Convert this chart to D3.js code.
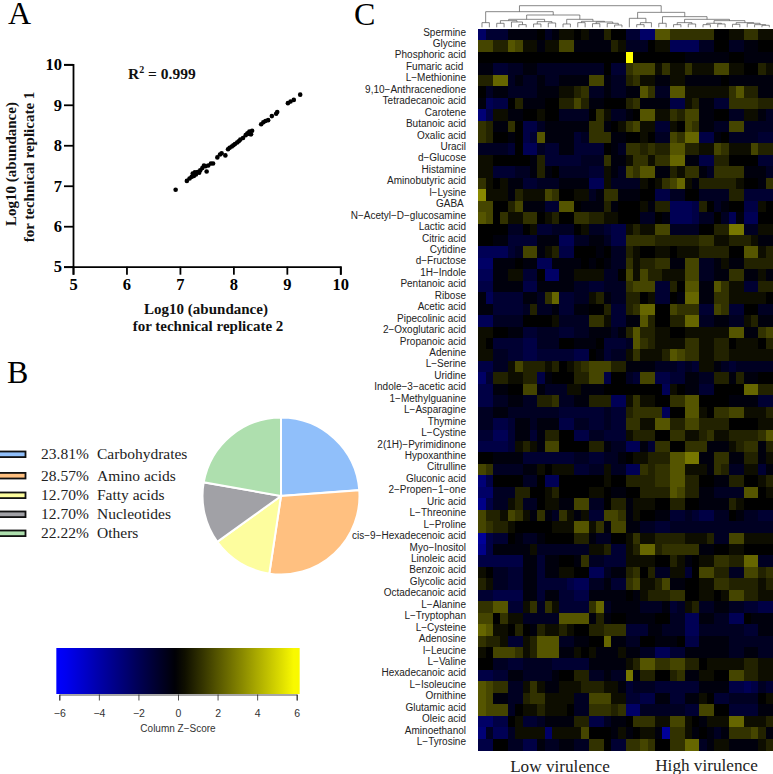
<!DOCTYPE html>
<html>
<head>
<meta charset="utf-8">
<script src="https://d3js.org/d3.v7.min.js"></script>
<style>
html,body{margin:0;padding:0;background:#fff;overflow:hidden}
svg{display:block}
</style>
</head>
<body>
<svg id="chart" width="773" height="774"></svg>
<script>
// ---------- Panel A data
const scatterX = [6.92,7.13,7.18,7.22,7.24,7.26,7.28,7.3,7.33,7.36,7.38,7.42,7.45,7.48,7.5,7.53,7.58,7.62,7.7,7.75,7.78,7.85,7.9,7.93,7.97,8.0,8.03,8.07,8.1,8.13,8.18,8.23,8.26,8.28,8.3,8.3,8.33,8.35,8.52,8.56,8.6,8.65,8.72,8.8,8.82,9.02,9.07,9.13,9.25];
const scatterY = [6.9,7.12,7.18,7.22,7.3,7.24,7.33,7.28,7.34,7.32,7.38,7.44,7.5,7.48,7.35,7.5,7.55,7.55,7.7,7.77,7.8,7.75,7.9,7.94,7.97,8.0,8.03,8.07,8.1,8.14,8.18,8.25,8.29,8.3,8.28,8.34,8.27,8.36,8.52,8.57,8.6,8.62,8.72,8.78,8.82,9.04,9.08,9.12,9.25];
const scatterTicks = [5,6,7,8,9,10];

// ---------- Panel B data
const pieNames = ["Carbohydrates","Amino acids","Fatty acids","Nucleotides","Others"];
const pieValues = [23.81,28.57,12.70,12.70,22.22];
const pieColors = ["#90bffa","#ffc080","#fdfd9e","#a1a1a6","#aedfae"];

// ---------- Panel C data
const metabolites = ["Spermine","Glycine","Phosphoric acid","Fumaric acid ","L−Methionine","9,10−Anthracenedione","Tetradecanoic acid","Carotene","Butanoic acid","Oxalic acid","Uracil","d−Glucose","Histamine","Aminobutyric acid","l−Lysine","GABA ","N−Acetyl−D−glucosamine","Lactic acid","Citric acid","Cytidine","d−Fructose","1H−Indole","Pentanoic acid","Ribose","Acetic acid","Pipecolinic acid","2−Oxoglutaric acid","Propanoic acid","Adenine","L−Serine","Uridine","Indole−3−acetic acid","1−Methylguanine","L−Asparagine","Thymine","L−Cystine","2(1H)−Pyrimidinone","Hypoxanthine","Citrulline","Gluconic acid","2−Propen−1−one","Uric acid","L−Threonine","L−Proline","cis−9−Hexadecenoic acid","Myo−Inositol","Linoleic acid","Benzoic acid","Glycolic acid","Octadecanoic acid","L−Alanine","L−Tryptophan","L−Cysteine","Adenosine","l−Leucine","L−Valine","Hexadecanoic acid","L−Isoleucine","Ornithine","Glutamic acid","Oleic acid","Aminoethanol","L−Tyrosine"];
// estimated levels; zPerLevel converts them to z-scores
const zPerLevel = 0.4;
const heatValues = [
[-6,-3,-3,-3,-1,-1,-1,-1,0,-2,-1,1,1,0,1,-1,-1,2,0,0,-3,-3,-6,-6,5,5,3,3,3,3,3,3,0,0,1,1,3,3,1,1],
[4,4,2,2,5,4,1,1,-1,1,1,4,4,-1,-1,-1,-1,-1,2,1,-2,-2,-2,0,1,1,-5,-5,-5,-5,-2,-2,0,0,-2,-2,-1,-1,0,0],
[0,0,0,0,0,0,0,0,0,0,0,0,0,0,0,0,0,0,0,0,15,0,0,0,0,0,0,0,-1,-1,-1,-1,-1,-1,0,0,-1,-1,-1,-1],
[-1,-1,-3,-3,-2,-2,-1,-1,-2,-2,-2,-2,-2,-2,-2,-2,-2,0,-3,-3,3,4,4,4,1,3,1,1,3,1,1,1,4,4,1,1,0,0,2,1],
[2,2,6,6,-2,-1,-2,-2,-1,-2,-2,-1,-1,-1,-1,4,4,-1,-2,-2,2,3,1,1,-1,-1,1,1,-1,-1,-1,-1,-1,0,-1,-1,-1,-1,-1,-1],
[0,-2,-1,-1,-2,-2,-2,-2,-1,-1,-1,1,1,2,3,-2,-2,-1,-2,-2,-1,-1,5,3,-2,-2,5,5,1,1,1,1,1,1,3,5,2,2,-1,-1],
[-1,-5,-4,-4,0,2,-1,-1,-1,0,0,2,2,4,2,-1,-1,0,0,0,2,3,-1,-1,-1,-1,-4,-4,1,2,-1,-1,-3,-3,3,3,3,3,2,2],
[-7,-4,1,1,-1,-1,0,0,1,0,0,-2,-2,-2,-2,0,3,1,-2,-2,-1,0,5,5,1,1,3,2,4,4,-1,-1,0,0,-2,-2,1,1,-1,-2],
[3,2,-1,-1,3,0,-4,-4,-2,-1,-1,-1,-1,-1,-1,3,3,-1,0,1,3,4,1,1,-3,-3,1,0,4,3,-1,-1,-2,-2,4,4,-2,-2,-2,-2],
[3,2,0,0,-1,0,-4,-3,5,-1,-1,-1,-1,-3,-2,3,3,3,-1,-1,0,0,1,0,-2,-2,4,3,6,6,-4,-4,-1,0,-2,-2,-2,-2,-3,-3],
[-2,-2,-2,-2,-3,0,-5,-5,-2,-3,-3,-1,-1,-3,-3,-3,-3,0,-1,-2,3,3,2,3,2,2,5,5,2,2,1,1,4,3,1,1,1,4,2,2],
[1,1,0,0,0,0,0,-1,2,-3,-3,-3,-3,-3,-2,-2,-2,3,-1,-1,1,3,3,1,3,3,6,6,-1,-1,-4,-4,2,2,0,0,0,0,-3,-3],
[1,1,-3,-3,-3,-2,-2,-1,2,-1,0,-2,-2,-2,-2,-3,-3,1,-1,-2,4,3,5,5,-1,-1,2,1,3,3,-1,-2,3,3,3,3,-1,-1,-1,-2],
[3,1,0,1,-1,-1,-3,-3,-2,-2,-2,-1,-1,-1,-1,-5,-5,1,-2,-2,-2,-2,1,0,1,3,4,6,1,-1,2,2,2,2,2,1,0,0,-1,3],
[8,1,1,1,-1,2,1,1,1,4,3,0,0,1,1,-2,-1,3,3,-1,-1,-1,0,0,-4,-4,-2,-2,0,0,-2,-2,-2,-2,2,2,-3,-3,-3,-3],
[4,4,0,0,2,4,-1,-1,-1,-3,-3,5,5,0,-1,-1,-1,2,-1,0,0,0,1,-1,2,2,-5,-5,-5,-4,2,0,-2,-1,0,0,-4,-4,1,0],
[5,4,0,3,1,1,3,3,0,1,2,0,0,3,3,2,2,1,1,0,0,0,-2,-2,0,-1,-5,-5,-5,-4,-2,-2,0,-2,-5,-1,-5,-5,0,0],
[0,0,0,0,-2,-2,0,1,-3,-3,-2,-2,-2,0,1,-2,-2,-3,-4,-4,1,2,1,1,4,4,-2,-2,-2,-2,0,0,2,2,7,7,-2,-2,1,1],
[0,0,-1,-1,-3,-3,-3,-3,-1,-1,-1,-5,-5,-2,-2,-1,-1,-2,-4,-4,3,3,3,3,2,2,2,2,2,2,3,3,1,1,2,2,2,1,-1,-1],
[-5,-5,-5,-5,-3,-2,4,4,-1,1,2,-4,-4,0,0,0,-1,0,-2,-2,2,1,0,0,1,1,0,1,1,1,2,2,2,2,0,0,5,5,1,2],
[-6,-6,-1,-1,-1,0,-1,-1,-5,-5,-1,-1,-1,-1,0,-1,0,-1,-2,-2,3,1,2,2,3,3,-1,-1,4,4,-2,-2,-1,1,-1,-1,2,2,2,2],
[-5,-5,-1,-1,1,1,-3,-3,0,-6,-6,-1,-1,1,1,1,1,-2,-2,0,4,1,4,2,2,1,1,1,4,4,-2,-2,-1,-1,3,3,-1,-1,1,-1],
[-4,-4,-1,-1,-1,-1,-4,-4,-1,-1,-1,-1,-1,-2,-2,-3,-3,-2,-2,-2,3,4,4,4,-3,-3,2,0,5,5,-1,-1,5,3,1,1,-3,-3,2,2],
[-1,-5,-3,-3,-3,-3,-1,-1,-2,3,6,-3,-3,-2,-2,1,2,-1,-2,-2,2,2,0,1,-3,-3,0,-1,6,6,-1,-1,3,3,1,1,1,1,1,0],
[-1,-1,-3,-3,-3,-3,-2,2,-2,-2,-1,-3,-3,-1,-1,0,0,2,-3,-3,2,3,6,6,0,0,4,3,3,3,-3,-3,4,3,-3,-3,0,0,-2,-2],
[-5,-5,-2,-2,-2,-2,0,0,0,0,1,-2,-2,-2,-2,3,3,1,-3,-3,-1,-1,5,2,0,0,2,2,6,6,-2,-2,-1,-1,-2,-2,1,2,-1,-1],
[1,1,0,0,-1,-1,-3,-3,-2,-2,-2,-3,-3,-2,-2,-1,-1,-1,-2,-1,2,5,2,2,1,1,0,0,1,1,1,1,1,1,5,5,-1,-1,3,4],
[1,0,-3,-3,-3,-3,-4,-4,-2,-2,-2,0,0,-1,-1,-1,0,-3,-3,-3,-2,5,3,2,1,1,1,1,3,3,1,1,2,2,0,1,1,1,0,2],
[1,1,-2,-2,-3,-3,-4,-4,-3,-3,-3,-3,-3,-4,-4,0,-1,-3,-2,-2,1,3,1,1,1,2,5,4,3,3,1,1,2,2,1,1,1,1,1,1],
[-4,-4,-2,-2,1,4,2,2,2,1,2,0,1,2,3,4,4,4,2,2,-1,-1,-1,-1,-2,-2,-2,-3,-2,-3,1,1,-1,-2,-3,-2,-2,-2,-2,-2],
[-6,-3,2,2,1,1,2,2,-4,-1,0,0,0,2,2,4,4,-4,0,0,-2,-3,4,4,-4,-4,-3,-3,-1,-1,-2,-2,2,2,-1,2,-1,-1,0,0],
[-4,-4,-1,-1,0,0,4,4,-1,-2,-2,-2,1,1,-1,-1,-1,0,0,0,0,0,0,0,0,-5,1,0,-1,-1,-3,-3,0,0,0,0,6,6,2,2],
[-4,-4,-2,-2,-1,-1,-2,-2,2,2,3,-2,-2,-1,-1,2,2,2,-5,-5,1,3,1,1,0,0,3,3,5,5,0,0,0,0,-1,-1,-1,-1,-3,-3],
[-2,-2,-1,-1,-2,-2,-2,-2,-2,-2,-2,-3,-3,-3,-3,-3,-3,-2,-3,-3,2,3,3,3,3,-5,0,0,5,5,1,0,3,3,4,4,1,1,1,2],
[-2,-2,-4,-4,-3,-1,-1,-2,-1,-1,-1,-4,-4,-2,-2,-3,-3,-2,-3,-3,3,3,1,1,5,5,2,2,4,4,2,2,2,2,0,0,0,0,1,1],
[-3,-3,-5,-5,-3,-1,-1,-3,-1,2,2,0,0,-4,-4,-2,-2,-3,-3,-3,1,2,2,2,0,0,3,3,1,1,2,3,1,1,2,2,2,2,3,5],
[-4,-4,-4,-4,-3,1,2,1,-1,4,4,0,0,0,0,2,2,-1,-2,-2,-5,-5,-1,-3,3,3,0,0,3,3,3,-1,-1,-1,1,2,3,3,-1,2],
[0,0,-1,-1,-1,-1,-3,-3,-3,-3,-3,-3,-3,-2,-2,-3,-3,-2,-2,-1,0,1,1,2,2,2,5,5,7,7,-1,-1,3,3,-1,-1,2,2,-1,1],
[4,3,-2,-2,-2,-2,-1,-1,1,0,1,1,1,-3,-3,-2,-2,1,-2,-2,-5,-5,3,2,3,3,5,5,1,1,1,-1,3,2,-2,-2,1,1,-3,-1],
[-7,-4,0,0,0,0,-2,-2,0,-5,-5,0,0,0,0,0,0,1,0,0,2,2,2,2,3,3,5,5,2,2,0,0,-1,-1,2,2,0,0,1,2],
[-6,-6,-2,-2,-2,2,2,0,0,1,2,0,0,0,0,1,1,0,-1,-1,0,0,2,2,2,2,5,4,2,2,-1,-1,-2,-2,-2,-2,5,5,0,1],
[-8,-4,-2,-2,1,2,-2,-2,0,1,1,-1,-1,4,4,-2,-2,0,2,2,-1,1,1,1,0,0,2,2,0,0,-1,-1,-1,-1,2,1,0,0,0,0],
[4,2,2,1,4,3,1,-1,3,-1,-2,3,1,-1,1,-3,-3,4,4,3,-1,1,0,0,-1,-1,-3,-3,-2,-3,-4,-4,-2,-2,0,-1,-2,-2,-3,-3],
[4,3,2,2,1,0,0,0,0,0,1,1,1,5,5,1,3,-1,4,4,-1,-1,-2,-2,-3,-3,-2,-2,-2,-2,-2,-2,-2,-2,-2,-2,-2,-2,-2,-2],
[-9,-4,-3,-3,0,-1,-2,-2,-1,0,0,0,0,2,2,-1,-2,-2,0,0,1,3,1,1,2,2,2,2,1,1,1,2,-2,-2,4,4,1,1,1,1],
[-8,-4,-1,-1,-1,-1,-1,1,-2,-2,-2,-2,-2,-2,-2,1,1,2,-3,-3,1,2,6,6,2,3,3,3,3,3,-1,-1,0,0,1,1,0,0,0,0],
[-4,-4,-4,-4,-4,-4,-1,-1,-3,-1,-1,0,0,-1,3,-2,-2,-3,-3,-3,1,1,1,1,0,0,2,1,-1,0,1,1,3,3,2,2,6,6,-2,-2],
[1,0,-2,-2,-3,-3,-1,-1,-3,-1,-1,1,1,0,0,-5,-5,-2,-1,-1,2,3,0,2,-2,-2,1,1,-3,0,4,4,2,2,-2,-2,4,4,2,3],
[2,1,-2,-2,-3,-3,-1,-1,-3,-3,-3,-3,-4,-5,-5,-2,-2,-1,-3,-3,3,4,1,1,2,4,-1,-1,0,0,1,1,3,3,2,2,2,2,1,2],
[-3,-3,-4,-4,-4,-4,-1,-1,-3,-1,-1,-3,-3,-4,-4,-1,-1,-1,-1,-1,0,-1,1,2,2,2,3,3,0,0,1,1,0,1,4,4,2,2,1,1],
[3,3,5,5,-3,-3,1,3,-2,3,1,-3,-3,-3,-3,3,6,-2,-1,-1,-1,-1,-2,-2,-2,-1,-3,-2,1,2,-2,-2,-1,-1,-2,-2,-3,-3,-4,-4],
[4,4,0,3,1,1,-2,-2,-2,-2,-2,5,5,5,5,-1,2,-1,0,0,-1,-1,-1,-1,0,0,-2,-2,-5,-5,-1,-1,-2,-2,-5,-5,0,-1,-1,-1],
[6,5,1,1,0,2,0,-1,2,1,1,2,1,0,0,2,2,3,3,3,-3,-3,-3,-1,-1,-2,-2,-2,-5,-5,-2,-2,-2,-2,-2,-2,-3,-3,-1,-1],
[3,2,2,1,-3,-3,1,2,5,5,5,-2,-2,-1,-1,0,0,6,-1,-1,-2,-2,0,0,-1,-1,-1,0,-4,-4,-1,-1,-1,-1,-2,-2,-2,-2,-2,-2],
[1,0,4,4,4,3,1,2,5,5,5,-1,-1,1,0,1,-1,-1,-1,1,-1,-1,-2,-2,-5,-5,-3,-3,-1,-1,-1,-1,-1,-1,-2,-2,-1,-1,-2,-2],
[0,0,-2,-2,-3,-3,-2,-2,-2,-2,-3,-3,-3,-3,-3,-1,-1,-1,-1,-1,1,2,5,5,3,3,4,4,2,2,0,1,1,1,1,1,2,2,1,1],
[-4,-4,-3,-3,-1,-1,-2,-2,-2,-2,-1,0,0,2,2,-2,-2,-1,-2,-2,7,-1,2,2,0,0,2,3,-1,-1,1,1,0,0,4,4,2,2,1,1],
[5,4,3,3,-2,-2,1,3,1,-1,-1,1,1,1,2,2,2,1,1,-1,-3,-2,-2,-2,-3,-3,-3,-3,-3,-3,-1,-1,-1,-1,-4,-4,-5,-4,-2,-3],
[5,4,-1,-1,-2,-2,2,3,3,1,1,1,1,-2,-2,4,4,4,1,1,-3,-3,-4,-4,-1,-1,-3,-3,-1,-1,1,0,-3,-3,-2,-2,-2,-2,0,1],
[5,4,4,4,-2,0,1,1,2,1,1,1,0,-2,-2,3,3,3,2,3,-6,-6,-2,-2,-2,-2,-2,-2,-3,-3,4,4,0,0,-3,-3,-3,-3,-1,-1],
[-6,-6,-4,-4,0,1,-3,-3,-2,-1,-1,-1,-1,2,2,-4,-4,-2,-1,-1,0,3,3,3,1,1,4,4,1,0,-1,1,1,1,6,6,1,1,1,2],
[-7,-2,-5,-5,-2,1,1,1,1,-6,1,1,1,1,4,0,0,0,-1,1,-1,0,1,1,-1,-9,3,3,1,-1,0,-1,-2,-1,3,3,3,4,2,-1],
[-4,-4,0,0,-2,-2,-4,-4,-1,-2,-2,-1,-1,-2,-2,3,3,0,-3,-3,3,3,4,3,0,0,3,3,6,6,-2,-1,1,1,-1,-1,-1,-1,1,2]
];
// column dendrogram: [height, left, right]; a plain number is a column index
const dendrogram = [65,
  [47,[14,0,1],
    [37,
      [24,[20,[12,2,3],[16,4,[8,5,6]]],[17,[10,7,8],[13,9,10]]],
      [24,[10,11,12],[18,[14,13,14],[16,[11,15,16],[12,17,[7,18,19]]]]]]],
  [45,
    [27,20,[14,[8,21,22],23]],
    [32,[12,24,25],
      [24,[14,[8,26,27],[10,28,29]],
        [20,[12,[8,30,31],[10,32,33]],[14,[9,34,35],[12,36,[8,37,[6,38,39]]]]]]]]];
const groupNames = ["Low virulence","High virulence"];

// ---------- Colour bar data
const zDomain = [-6.15,6.15];
const zTicks = [-6,-4,-2,0,2,4,6];

const svg = d3.select("#chart");
const SERIF = '"Liberation Serif",serif', SANS = '"Liberation Sans",sans-serif';

// panel letters
[["A",8,23.5],["B",7,383],["C",354,25]].forEach(([t,x,y])=>{
  svg.append("text").attr("x",x).attr("y",y).attr("font-family",SERIF).attr("font-size",32).attr("fill","#000").text(t);
});

// ---------- Panel A
const xA = d3.scaleLinear().domain([5,10]).range([73,340.3]);
const yA = d3.scaleLinear().domain([5,10]).range([266.7,64.3]);
const gA = svg.append("g");
const xAxisA = gA.append("g").attr("transform","translate(0,266.7)").call(d3.axisBottom(xA).tickValues(scatterTicks).tickFormat(d3.format("d")).tickSize(8).tickPadding(4));
const yAxisA = gA.append("g").attr("transform","translate(73,0)").call(d3.axisLeft(yA).tickValues(scatterTicks).tickFormat(d3.format("d")).tickSize(9).tickPadding(2));
[xAxisA,yAxisA].forEach(a=>{
  a.selectAll("path,line").attr("stroke","#000").attr("stroke-width",1.8);
  a.selectAll("text").attr("font-family",SERIF).attr("font-weight","bold").attr("font-size",16.5).attr("fill","#000");
});
gA.selectAll("circle").data(scatterX).join("circle")
  .attr("cx",d=>xA(d)).attr("cy",(d,i)=>yA(scatterY[i])).attr("r",2.3).attr("fill","#000");
const boldLabel = (g,x,y,t,rot)=>g.append("text").attr("text-anchor","middle")
  .attr("transform",`translate(${x},${y})`+(rot?" rotate(-90)":""))
  .attr("font-family",SERIF).attr("font-weight","bold").attr("font-size",15).attr("fill","#111").text(t);
boldLabel(gA,206,314,"Log10 (abundance)");
boldLabel(gA,208,331,"for technical replicate 2");
boldLabel(gA,16,164,"Log10 (abundance)",true);
boldLabel(gA,34,167,"for technical replicate 1",true);
const r2 = gA.append("text").attr("x",128).attr("y",79).attr("font-family",SERIF).attr("font-weight","bold").attr("font-size",15.5).attr("fill","#111");
r2.append("tspan").text("R");
r2.append("tspan").attr("dy",-6).attr("font-size",10).text("2");
r2.append("tspan").attr("dy",6).text(" = 0.999");

// ---------- Panel B
const pieGen = d3.pie().sort(null)(pieValues);
const arc = d3.arc().innerRadius(0).outerRadius(78.5);
svg.append("g").attr("transform","translate(281,496)")
  .selectAll("path").data(pieGen).join("path")
  .attr("d",arc).attr("fill",(d,i)=>pieColors[i]).attr("stroke","#fff").attr("stroke-width",2);
const legendRows = [454.3,475.7,495.3,514.3,533.3];
const legend = svg.append("g").selectAll("g").data(pieNames).join("g")
  .attr("transform",(d,i)=>`translate(0,${legendRows[i]})`);
legend.append("rect").attr("x",-4).attr("y",-2.8).attr("width",29.5).attr("height",5.6)
  .attr("fill",(d,i)=>pieColors[i]).attr("stroke","#111").attr("stroke-width",1.8);
legend.append("text").attr("x",41).attr("y",5).attr("font-family",SERIF).attr("font-size",15.5).attr("fill","#222")
  .text((d,i)=>d3.format(".2f")(pieValues[i])+"%");
legend.append("text").attr("x",97).attr("y",5).attr("font-family",SERIF).attr("font-size",15.5).attr("fill","#222").text(d=>d);

// ---------- Colour bar
const zColor = d3.scaleLinear().domain([-6,0,6]).range(["#0000ff","#000000","#ffff00"]).clamp(true);
const xZ = d3.scaleLinear().domain([-6,6]).range([59.3,296.7]);
const defs = svg.append("defs");
const grad = defs.append("linearGradient").attr("id","zgrad");
d3.range(zDomain[0],zDomain[1]+0.01,0.5).forEach(z=>{
  grad.append("stop").attr("offset",(z-zDomain[0])/(zDomain[1]-zDomain[0])).attr("stop-color",zColor(z));
});
svg.append("rect").attr("x",xZ(zDomain[0])).attr("y",648).attr("width",xZ(zDomain[1])-xZ(zDomain[0])).attr("height",46).attr("fill","url(#zgrad)");
const zAxis = svg.append("g").attr("transform","translate(0,694.5)")
  .call(d3.axisBottom(xZ).tickValues(zTicks).tickSize(6).tickPadding(9).tickFormat(d=>String(d).replace("-","−")));
zAxis.select(".domain").attr("stroke","#222").attr("stroke-width",.8);
zAxis.selectAll("line").attr("stroke","#222").attr("stroke-width",.8);
zAxis.selectAll("text").attr("font-family",SANS).attr("font-size",10.5).attr("fill","#333");
svg.append("text").attr("x",178).attr("y",732).attr("text-anchor","middle").attr("font-family",SANS).attr("font-size",10).attr("fill","#333").text("Column Z−Score");

// ---------- Panel C
const columns = d3.range(heatValues[0].length);
const xH = d3.scaleBand().domain(columns).range([478.3,773]);
const yH = d3.scaleBand().domain(metabolites).range([29,750]);
const soften = defs.append("filter").attr("id","soften").attr("filterUnits","userSpaceOnUse")
  .attr("x",470).attr("y",20).attr("width",310).attr("height",740);
soften.append("feGaussianBlur").attr("stdDeviation",0.7);
const cells = svg.append("g").attr("filter","url(#soften)");
cells.append("rect").attr("x",xH.range()[0]).attr("y",yH.range()[0])
  .attr("width",xH.range()[1]-xH.range()[0]).attr("height",yH.range()[1]-yH.range()[0]).attr("fill","#000");
heatValues.forEach((row,r)=>{
  cells.append("g").attr("shape-rendering","crispEdges").selectAll("rect").data(row).join("rect")
    .attr("x",(d,i)=>xH(i)).attr("y",yH(metabolites[r]))
    .attr("width",xH.bandwidth()+.6).attr("height",yH.bandwidth()+.6)
    .attr("fill",d=>zColor(d*zPerLevel));
});
svg.append("g").selectAll("text").data(metabolites).join("text")
  .attr("x",466).attr("y",d=>yH(d)+yH.bandwidth()/2-2.7).attr("dy","0.35em")
  .attr("text-anchor","end").style("white-space","pre")
  .attr("font-family",SANS).attr("font-size",10).attr("fill","#222").text(d=>d);

// dendrogram
const yD = d3.scaleLinear().domain([0,65]).range([27.3,5.7]);
const dPath = d3.path();
function drawNode(n){
  if(typeof n === "number") return {x:xH(n)+xH.bandwidth()/2,h:0};
  const a = drawNode(n[1]), b = drawNode(n[2]);
  dPath.moveTo(a.x,yD(a.h)); dPath.lineTo(a.x,yD(n[0])); dPath.lineTo(b.x,yD(n[0])); dPath.lineTo(b.x,yD(b.h));
  return {x:(a.x+b.x)/2,h:n[0]};
}
drawNode(dendrogram);
svg.append("path").attr("d",dPath.toString()).attr("fill","none").attr("stroke","#555").attr("stroke-width",.7);

// group labels
[[560,771.5],[706.5,770.5]].forEach(([x,y],i)=>{
  svg.append("text").attr("x",x).attr("y",y).attr("text-anchor","middle").attr("font-family",SERIF).attr("font-size",17.2).attr("fill","#222").text(groupNames[i]);
});
</script>
</body>
</html>
